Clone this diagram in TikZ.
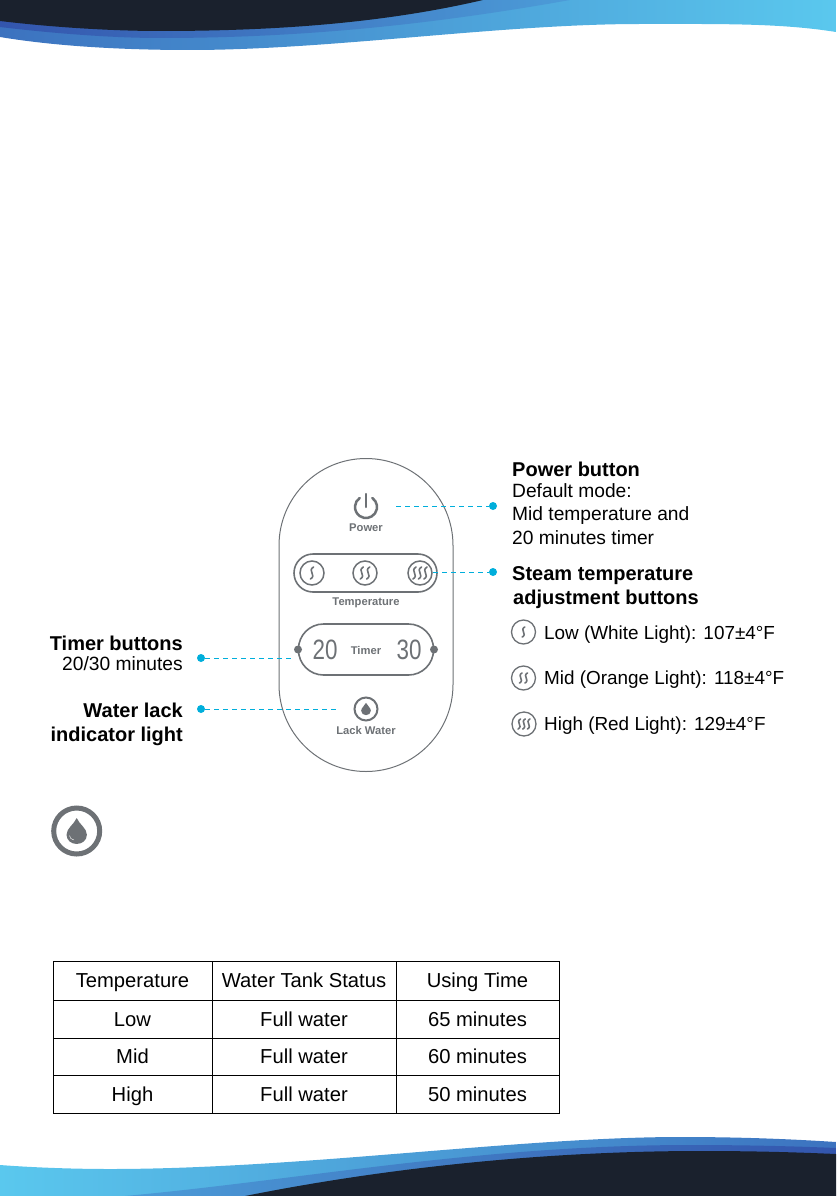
\documentclass[tikz,border=0pt]{standalone}
\usepackage{fontspec}
\setmainfont{Liberation Sans}
\pgfdeclarelayer{edgelayer}
\pgfdeclarelayer{nodelayer}
\pgfsetlayers{edgelayer,main,nodelayer}
\definecolor{panelgray}{HTML}{6D7175}
\definecolor{leadercyan}{HTML}{00AEDB}
\definecolor{navy}{HTML}{1A212D}
\definecolor{skyblue}{HTML}{5AC8EE}
\definecolor{midblue}{HTML}{3C72BF}
\definecolor{deepblue}{HTML}{3355AD}
\definecolor{softblue}{HTML}{4C9CD8}
\newcommand{\hd}[1]{{\fontsize{20}{23.5}\selectfont\bfseries #1}}
\tikzstyle{edge}=[draw=leadercyan, line width=0.8pt, dash pattern=on 5pt off 4pt]
\tikzstyle{leaderdot}=[circle, fill=leadercyan, minimum size=8pt, inner sep=0pt]
\tikzstyle{knob}=[circle, fill=panelgray, minimum size=8pt, inner sep=0pt]
\tikzstyle{button}=[circle, draw=panelgray, line width=1.5pt, minimum size=24pt, inner sep=0pt]
\tikzstyle{legendbutton}=[circle, draw=panelgray, line width=1.3pt, minimum size=24pt, inner sep=0pt]
\tikzstyle{paneltext}=[text=panelgray, font=\fontsize{11.2}{13}\selectfont\bfseries, inner sep=0pt]
\tikzstyle{digits}=[text=panelgray, font=\fontsize{28}{30}\selectfont, inner sep=0pt]
\tikzstyle{infotext}=[text=black, font=\fontsize{19.2}{23.5}\selectfont, inner sep=0pt]
\tikzstyle{legendtext}=[text=black, font=\fontsize{18.9}{23}\selectfont, inner sep=0pt]
\tikzstyle{cell}=[draw=black, line width=1pt, font=\fontsize{20.2}{23}\selectfont, inner sep=0pt, text height=16pt, text depth=2pt]
\tikzset{
  steamone/.pic={\draw [panelgray, line width=1.6pt, line cap=round] (1.5,-6) .. controls (-5,-2) and (5,2) .. (-1.5,6);},
  steamtwo/.pic={\foreach \dx in {-3.2,3.2} {\draw [panelgray, line width=1.6pt, line cap=round, xshift=\dx] (1.5,-6) .. controls (-5,-2) and (5,2) .. (-1.5,6);}},
  steamthree/.pic={\foreach \dx in {-5.5,0,5.5} {\draw [panelgray, line width=1.6pt, line cap=round, xshift=\dx] (1.5,-6) .. controls (-5,-2) and (5,2) .. (-1.5,6);}},
  waterdrop/.pic={\fill [panelgray] (0,-7) .. controls (1.5,-3.5) and (5.5,-1.5) .. (5.5,2) .. controls (5.5,5) and (3,7) .. (0,7) .. controls (-3,7) and (-5.5,5) .. (-5.5,2) .. controls (-5.5,-1.5) and (-1.5,-3.5) .. (0,-7) -- cycle;}
}
\begin{document}
\begin{tikzpicture}[x=1pt, y=-1pt]
	\useasboundingbox (0,0) rectangle (836,1196);
	% top wave
	\shade [left color=midblue, right color=skyblue] (0,0) -- (0,37) .. controls (60,47) and (130,50) .. (190,50) .. controls (330,50) and (500,24) .. (640,24) .. controls (720,24) and (780,23) .. (836,32) -- (836,0) -- cycle;
	\shade [left color=deepblue, right color=softblue] (0,0) -- (0,27) .. controls (50,33) and (110,38) .. (160,38) .. controls (300,38) and (430,25) .. (570,0) -- cycle;
	\fill [navy] (0,0) -- (0,21) .. controls (50,27) and (110,31) .. (160,31) .. controls (270,31) and (380,24) .. (483,0) -- cycle;
	% bottom wave
	\shade [left color=skyblue, right color=midblue] (0,1196) -- (0,1165) .. controls (40,1168) and (80,1169) .. (110,1169) .. controls (300,1169) and (520,1137) .. (680,1137) .. controls (740,1137) and (790,1139) .. (836,1142) -- (836,1196) -- cycle;
	\shade [left color=softblue, right color=deepblue] (125,1196) .. controls (300,1180) and (480,1145) .. (690,1145) .. controls (740,1145) and (790,1146) .. (836,1148) -- (836,1196) -- cycle;
	\fill [navy] (245,1196) .. controls (400,1165) and (560,1151) .. (700,1151) .. controls (750,1151) and (790,1152) .. (836,1154) -- (836,1196) -- cycle;
	\begin{pgfonlayer}{nodelayer}
		% control panel
		\node [draw=panelgray, line width=1pt, rounded corners=87pt, minimum width=174pt, minimum height=313pt] (panel) at (366,615) {};
		\node [paneltext] (powertext) at (366,528) {Power};
		\node [draw=panelgray, line width=1.6pt, rounded corners=19pt, minimum width=143pt, minimum height=38pt] (temppill) at (365.5,573) {};
		\node [style=button] (lowbtn) at (312,573) {};
		\node [style=button] (midbtn) at (365,573) {};
		\node [style=button] (highbtn) at (420,573) {};
		\pic at (lowbtn) {steamone};
		\pic at (midbtn) {steamtwo};
		\pic at (highbtn) {steamthree};
		\node [paneltext] (temptext) at (366,602.5) {Temperature};
		\node [draw=panelgray, line width=1.6pt, rounded corners=25pt, minimum width=135pt, minimum height=51pt] (timerpill) at (366,649.5) {};
		\node [style=knob] (leftknob) at (298,649.5) {};
		\node [style=knob] (rightknob) at (434,649.5) {};
		\node [style=digits] (twenty) at (325,649.5) {\scalebox{0.8}[1]{20}};
		\node [style=digits] (thirty) at (409,649.5) {\scalebox{0.8}[1]{30}};
		\node [paneltext] (timertext) at (366,650.5) {Timer};
		\node [circle, draw=panelgray, line width=2pt, minimum size=23pt, inner sep=0pt] (lackbtn) at (366,709) {};
		\pic [scale=0.88] at (lackbtn) {waterdrop};
		\node [paneltext] (lacktext) at (366,730) {Lack Water};
		% power symbol
		\coordinate (powermark) at (366,507);
		\draw [panelgray, line width=2.5pt, line cap=round] (powermark) ++(-55:11) arc (-55:235:11);
		\draw [panelgray, line width=2.5pt, line cap=round] (366,494) -- (366,507);
		% leader dots and their texts
		\node [style=leaderdot] (powerdot) at (493,506) {};
		\node [style=leaderdot] (tempdot) at (493,572) {};
		\node [style=leaderdot] (timerdot) at (201,658) {};
		\node [style=leaderdot] (lackdot) at (201,709) {};
		\coordinate (powerend) at (396,506);
		\coordinate (tempend) at (433,572);
		\coordinate (timerend) at (295,658);
		\coordinate (lackend) at (338,709);
		\node [style=infotext, anchor=north west, align=left] (powerinfo) at (512,462) {\hd{Power button}\\[-3pt]Default mode:\\Mid temperature and\\20 minutes timer};
		\node [style=infotext, anchor=north west, align=left] (tempinfo) at (512,566.5) {\hd{Steam temperature}\\\hspace{1pt}\hd{adjustment buttons}};
		\node [style=infotext, anchor=north east, align=right] (timerinfo) at (183,636) {\hd{Timer buttons}\\[-4pt]20/30 minutes};
		\node [style=infotext, anchor=north east, align=right] (lackinfo) at (183,703) {\hd{Water lack}\\\hd{indicator light}};
		% temperature legend
		\node [style=legendbutton] (lowkey) at (523.5,632) {};
		\node [style=legendbutton] (midkey) at (523.5,678) {};
		\node [style=legendbutton] (highkey) at (524,724) {};
		\pic [scale=0.85] at (lowkey) {steamone};
		\pic [scale=0.85] at (midkey) {steamtwo};
		\pic [scale=0.85] at (highkey) {steamthree};
		\node [style=legendtext, anchor=west] (lowinfo) at (544,635) {Low (White Light): 107±4°F};
		\node [style=legendtext, anchor=west] (midinfo) at (544,680) {Mid (Orange Light): 118±4°F};
		\node [style=legendtext, anchor=west] (highinfo) at (544,726) {High (Red Light): 129±4°F};
		% large water drop
		\node [circle, draw=panelgray, line width=5pt, minimum size=46pt, inner sep=0pt] (bigdrop) at (76.7,831) {};
		\pic [scale=1.85] at (bigdrop) {waterdrop};
		\draw [white, line width=0.4pt] (69.5,835.5) .. controls (70,838) and (71,839.5) .. (74,840);
		% table
		\node [style=cell, minimum width=159pt, minimum height=39pt] (t00) at (132.5,980.5) {Temperature\hspace{1pt}};
		\node [style=cell, minimum width=184pt, minimum height=39pt] (t01) at (304,980.5) {Water Tank Status\hspace{2pt}};
		\node [style=cell, minimum width=163pt, minimum height=39pt] (t02) at (477.5,980.5) {Using Time};
		\node [style=cell, minimum width=159pt, minimum height=38pt] (t10) at (132.5,1019) {Low};
		\node [style=cell, minimum width=184pt, minimum height=38pt] (t11) at (304,1019) {Full water\hspace{3pt}};
		\node [style=cell, minimum width=163pt, minimum height=38pt] (t12) at (477.5,1019) {65 minutes\hspace{3pt}};
		\node [style=cell, minimum width=159pt, minimum height=37pt] (t20) at (132.5,1056.5) {Mid};
		\node [style=cell, minimum width=184pt, minimum height=37pt] (t21) at (304,1056.5) {Full water\hspace{3pt}};
		\node [style=cell, minimum width=163pt, minimum height=37pt] (t22) at (477.5,1056.5) {60 minutes\hspace{3pt}};
		\node [style=cell, minimum width=159pt, minimum height=38pt] (t30) at (132.5,1094) {High};
		\node [style=cell, minimum width=184pt, minimum height=38pt] (t31) at (304,1094) {Full water\hspace{3pt}};
		\node [style=cell, minimum width=163pt, minimum height=38pt] (t32) at (477.5,1094) {50 minutes\hspace{3pt}};
	\end{pgfonlayer}
	\begin{pgfonlayer}{nodelayer}
		\draw [style=edge] (powerend) to (powerdot);
		\draw [style=edge] (tempend) to (tempdot);
		\draw [style=edge] (timerdot) to (timerend);
		\draw [style=edge] (lackdot) to (lackend);
	\end{pgfonlayer}
\end{tikzpicture}
\end{document}
